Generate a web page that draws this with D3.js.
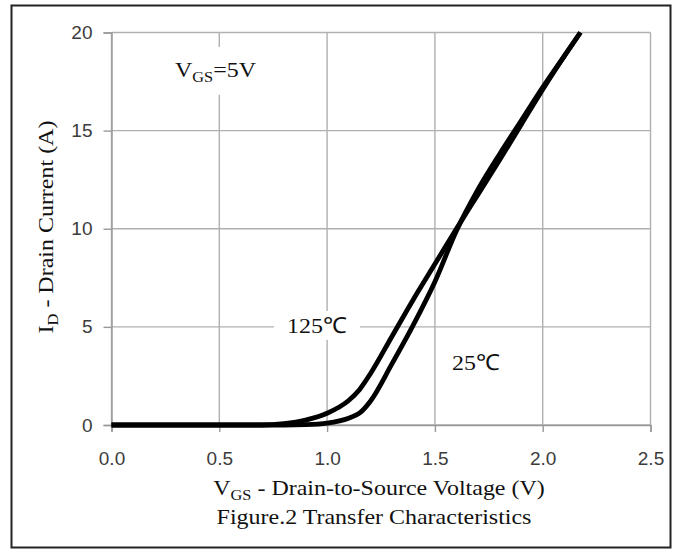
<!DOCTYPE html>
<html lang="en">
<head>
  <meta charset="UTF-8">
  <script src="https://d3js.org/d3.v7.min.js"></script>
  <title>Transfer Characteristics</title>
  <style>
    body { margin: 0; background: #fff; }
  </style>
</head>
<body>
  <svg id="chart" width="678" height="550"></svg>
  <script>
    // gate voltage samples (V) and drain current (A)
    const vgs = [0, 0.5, 0.7, 0.8, 0.9, 1.0, 1.1, 1.15, 1.2, 1.3, 1.4, 1.5, 1.6, 1.7, 1.8, 1.9, 2.0, 2.1, 2.175];
    const id125 = [0, 0, 0, 0.07, 0.25, 0.6, 1.25, 1.8, 2.6, 4.5, 6.4, 8.2, 10.0, 11.75, 13.5, 15.3, 17.1, 18.8, 20];
    const id25 = [0, 0, 0, 0, 0.02, 0.1, 0.35, 0.6, 1.2, 3.1, 5.1, 7.3, 9.9, 12.0, 13.8, 15.5, 17.2, 18.8, 20];

    const xTicks = [0, 0.5, 1.0, 1.5, 2.0, 2.5];
    const yTicks = [0, 5, 10, 15, 20];

    const svg = d3.select("#chart");

    // outer frame
    svg.append("rect")
      .attr("x", 11.5).attr("y", 5.5)
      .attr("width", 659).attr("height", 542)
      .attr("fill", "#fff")
      .attr("stroke", "#222")
      .attr("stroke-width", 2);

    const x = d3.scaleLinear().domain([0, 2.5]).range([111.5, 650.5]);
    const y = d3.scaleLinear().domain([0, 20]).range([425, 32.5]);

    // grid
    svg.append("g").selectAll("line")
      .data(xTicks)
      .join("line")
      .attr("x1", d => x(d)).attr("x2", d => x(d))
      .attr("y1", y(20)).attr("y2", y(0))
      .attr("stroke", "#b0b0b0").attr("stroke-width", 1.4);

    svg.append("g").selectAll("line")
      .data(yTicks)
      .join("line")
      .attr("x1", x(0)).attr("x2", x(2.5))
      .attr("y1", d => y(d)).attr("y2", d => y(d))
      .attr("stroke", "#b0b0b0").attr("stroke-width", 1.4);

    // axes
    const xAxis = d3.axisBottom(x).tickValues(xTicks).tickFormat(d3.format(".1f")).tickSize(7).tickPadding(20);
    const yAxis = d3.axisLeft(y).tickValues(yTicks).tickSize(8).tickPadding(11);

    const gx = svg.append("g").attr("transform", `translate(0,${y(0)})`).call(xAxis);
    const gy = svg.append("g").attr("transform", `translate(${x(0)},0)`).call(yAxis);

    [gx, gy].forEach(g => {
      g.select(".domain").attr("stroke", "#999").attr("stroke-width", 1.4);
      g.selectAll(".tick line").attr("stroke", "#999").attr("stroke-width", 1.4);
      g.selectAll(".tick text")
        .attr("fill", "#3c3c3c")
        .style("font-family", "'Liberation Sans', Arial, sans-serif")
        .style("font-size", "19px");
    });

    const serif = "'Liberation Serif', 'Times New Roman', serif";

    // serif text, a little wider than normal like the scanned original
    function serifText(px, py, anchor, parts, rotate) {
      const g = svg.append("g")
        .attr("transform", `translate(${px},${py})` + (rotate ? " rotate(-90)" : "") + " scale(1.09,1)");
      const bg = g.append("rect").attr("fill", "#fff");
      const t = g.append("text")
        .attr("text-anchor", anchor)
        .style("font-family", serif)
        .style("font-size", "22px")
        .attr("fill", "#111");
      parts.forEach(p => {
        if (p.sub) {
          t.append("tspan").attr("dy", 5).style("font-size", "15px").text(p.sub);
        } else {
          t.append("tspan").attr("dy", p.back ? -5 : 0).text(p.txt);
        }
      });
      return { g, bg, t };
    }

    // in-plot labels break the grid behind them
    function boxed(o, padX, padY) {
      const b = o.t.node().getBBox();
      o.bg.attr("x", b.x - padX).attr("y", b.y - padY)
        .attr("width", b.width + 2 * padX).attr("height", b.height + 2 * padY);
    }

    boxed(serifText(175, 77, "start", [{ txt: "V" }, { sub: "GS" }, { txt: "=5V", back: true }]), 6, 10);
    boxed(serifText(317, 333, "middle", [{ txt: "125℃" }]), 12, 2);
    boxed(serifText(476, 370, "middle", [{ txt: "25℃" }]), 6, 2);

    // curves
    const line = d3.line()
      .x((d, i) => x(vgs[i]))
      .y(d => y(d))
      .curve(d3.curveMonotoneX);

    [id125, id25].forEach(series => {
      svg.append("path")
        .attr("d", line(series))
        .attr("fill", "none")
        .attr("stroke", "#000")
        .attr("stroke-width", 4.8)
        .attr("stroke-linejoin", "round");
    });

    // axis titles
    serifText(379, 495, "middle", [{ txt: "V" }, { sub: "GS" }, { txt: " - Drain-to-Source Voltage (V)", back: true }]);
    serifText(374, 524, "middle", [{ txt: "Figure.2 Transfer Characteristics" }]);
    serifText(53, 227, "middle", [{ txt: "I" }, { sub: "D" }, { txt: " - Drain Current (A)", back: true }], true);
  </script>
</body>
</html>
